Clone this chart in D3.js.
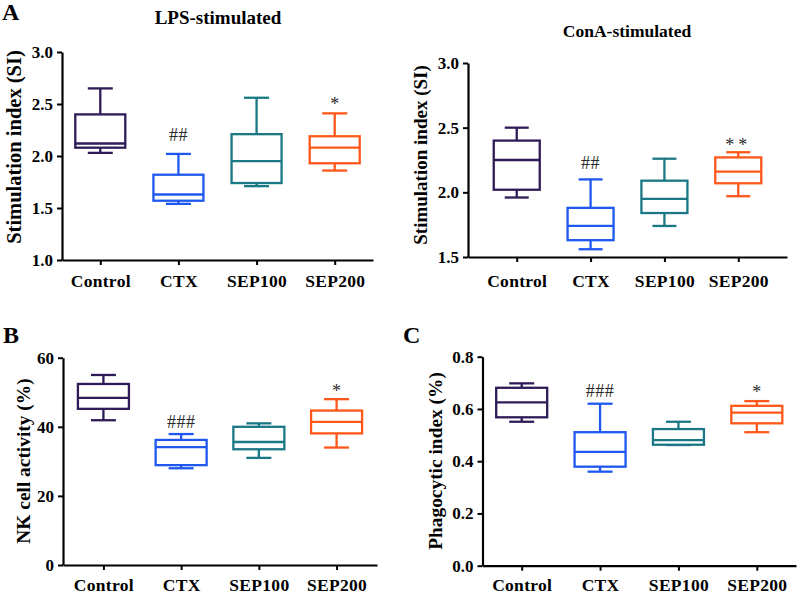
<!DOCTYPE html>
<html>
<head>
<meta charset="utf-8">
<script src="https://cdn.jsdelivr.net/npm/d3@7"></script>
<style>
  html, body { margin: 0; padding: 0; background: #fff; }
  svg { display: block; }
  text { font-family: "Liberation Serif", "Times New Roman", serif; }
</style>
</head>
<body>
<svg id="chart" width="800" height="596"></svg>
<script>
// ---------------- DATA ----------------
const categories = ["Control", "CTX", "SEP100", "SEP200"];
const groupColors = ["#2e1b57", "#1f58ee", "#1a7884", "#ff5719"];

// LPS-stimulated (Stimulation index)
const lpsMin = [2.03, 1.54, 1.71, 1.86];
const lpsQ1  = [2.08, 1.57, 1.74, 1.93];
const lpsMed = [2.12, 1.63, 1.95, 2.08];
const lpsQ3  = [2.40, 1.82, 2.21, 2.19];
const lpsMax = [2.65, 2.02, 2.56, 2.41];
const lpsMarks = ["", "##", "", "*"];
const lpsTicks = [1.0, 1.5, 2.0, 2.5, 3.0];

// ConA-stimulated (Stimulation index)
const conaMin = [1.96, 1.56, 1.74, 1.97];
const conaQ1  = [2.02, 1.63, 1.84, 2.07];
const conaMed = [2.25, 1.74, 1.95, 2.16];
const conaQ3  = [2.40, 1.88, 2.09, 2.27];
const conaMax = [2.50, 2.10, 2.26, 2.31];
const conaMarks = ["", "##", "", "**"];
const conaTicks = [1.5, 2.0, 2.5, 3.0];

// NK cell activity (%)
const nkMin = [41.9, 28.0, 31.0, 34.0];
const nkQ1  = [45.2, 28.9, 33.5, 38.1];
const nkMed = [48.4, 34.1, 35.6, 41.4];
const nkQ3  = [52.4, 36.2, 40.0, 44.7];
const nkMax = [55.0, 37.9, 41.0, 48.0];
const nkMarks = ["", "###", "", "*"];
const nkTicks = [0, 20, 40, 60];

// Phagocytic index (%)
const phMin = [0.551, 0.360, 0.462, 0.511];
const phQ1  = [0.568, 0.379, 0.463, 0.545];
const phMed = [0.625, 0.436, 0.481, 0.586];
const phQ3  = [0.681, 0.511, 0.523, 0.612];
const phMax = [0.698, 0.620, 0.551, 0.630];
const phMarks = ["", "###", "", "*"];
const phTicks = [0, 0.2, 0.4, 0.6, 0.8];

// ---------------- DRAW ----------------
const svg = d3.select("#chart");
const FONT = '"Liberation Serif", "Times New Roman", serif';

function drawPanel(cfg) {
  const g = svg.append("g");
  const x = d3.scalePoint().domain(categories).range([cfg.left, cfg.right]).padding(cfg.pad);
  const y = d3.scaleLinear().domain(cfg.domain).range([cfg.bottom, cfg.top]);

  // y axis
  const ya = g.append("g").attr("transform", `translate(${cfg.left},0)`)
    .call(d3.axisLeft(y).tickValues(cfg.ticks).tickFormat(d3.format(cfg.fmt))
      .tickSize(5).tickSizeOuter(0).tickPadding(4));
  ya.select(".domain").attr("stroke", "#000").attr("stroke-width", 2.2);
  ya.selectAll(".tick line").attr("stroke", "#000").attr("stroke-width", 2);
  ya.selectAll(".tick text").attr("font-family", FONT).attr("font-weight", "bold")
    .attr("font-size", cfg.tickFont).attr("fill", "#000");

  // x axis
  const xa = g.append("g").attr("transform", `translate(0,${cfg.bottom})`)
    .call(d3.axisBottom(x).tickSize(5).tickSizeOuter(0));
  xa.select(".domain").attr("stroke", "#000").attr("stroke-width", 2.2);
  xa.selectAll(".tick line").attr("stroke", "#000").attr("stroke-width", 2);
  xa.selectAll(".tick text").attr("font-family", FONT).attr("font-weight", "bold")
    .attr("font-size", cfg.catFont).attr("fill", "#000")
    .attr("y", cfg.catBase).attr("dy", 0).attr("letter-spacing", 0.3);

  // boxes
  const data = categories.map((c, i) => ({
    c, i, min: cfg.min[i], q1: cfg.q1[i], med: cfg.med[i], q3: cfg.q3[i], max: cfg.max[i],
    mark: cfg.marks[i]
  }));
  const bw = cfg.boxW, cw = cfg.capW, sw = 2.3;
  const box = g.selectAll(".box").data(data).join("g").attr("class", "box");
  box.append("line")
    .attr("x1", d => x(d.c)).attr("x2", d => x(d.c))
    .attr("y1", d => y(d.q3)).attr("y2", d => y(d.max))
    .attr("stroke", d => groupColors[d.i]).attr("stroke-width", sw);
  box.append("line")
    .attr("x1", d => x(d.c)).attr("x2", d => x(d.c))
    .attr("y1", d => y(d.q1)).attr("y2", d => y(d.min))
    .attr("stroke", d => groupColors[d.i]).attr("stroke-width", sw);
  box.append("line")
    .attr("x1", d => x(d.c) - cw / 2).attr("x2", d => x(d.c) + cw / 2)
    .attr("y1", d => y(d.max)).attr("y2", d => y(d.max))
    .attr("stroke", d => groupColors[d.i]).attr("stroke-width", sw);
  box.append("line")
    .attr("x1", d => x(d.c) - cw / 2).attr("x2", d => x(d.c) + cw / 2)
    .attr("y1", d => y(d.min)).attr("y2", d => y(d.min))
    .attr("stroke", d => groupColors[d.i]).attr("stroke-width", sw);
  box.append("rect")
    .attr("x", d => x(d.c) - bw / 2).attr("width", bw)
    .attr("y", d => y(d.q3)).attr("height", d => y(d.q1) - y(d.q3))
    .attr("fill", "#fff").attr("stroke", d => groupColors[d.i]).attr("stroke-width", sw);
  box.append("line")
    .attr("x1", d => x(d.c) - bw / 2).attr("x2", d => x(d.c) + bw / 2)
    .attr("y1", d => y(d.med)).attr("y2", d => y(d.med))
    .attr("stroke", d => groupColors[d.i]).attr("stroke-width", sw);

  // significance marks
  box.filter(d => d.mark).append("text")
    .attr("x", d => x(d.c))
    .attr("y", d => d.mark[0] === "#" ? y(d.max) - cfg.hashOff : y(d.max) + cfg.starOff)
    .attr("text-anchor", "middle")
    .attr("font-family", FONT)
    .attr("font-size", d => d.mark[0] === "#" ? 18 : 18)
    .attr("letter-spacing", d => d.mark === "**" ? 4 : (d.mark[0] === "#" ? 0.5 : 0))
    .attr("fill", "#2a2a2a")
    .text(d => d.mark);

  // y label
  g.append("text")
    .attr("transform", `translate(${cfg.ylabX},${cfg.ylabY}) rotate(-90)`)
    .attr("text-anchor", "middle").attr("dominant-baseline", "central")
    .attr("font-family", FONT).attr("font-weight", "bold").attr("font-size", cfg.ylabFont)
    .attr("fill", "#000")
    .text(cfg.ylabel);

  // title
  if (cfg.title) {
    g.append("text")
      .attr("x", cfg.titleX).attr("y", cfg.titleY).attr("text-anchor", "middle")
      .attr("font-family", FONT).attr("font-weight", "bold").attr("font-size", cfg.titleFont)
      .attr("fill", "#000")
      .text(cfg.title);
  }
  // panel letter
  if (cfg.letter) {
    g.append("text")
      .attr("x", cfg.letterX).attr("y", cfg.letterY)
      .attr("font-family", FONT).attr("font-weight", "bold").attr("font-size", 24)
      .attr("fill", "#000")
      .text(cfg.letter);
  }
}

drawPanel({
  left: 62, right: 373, top: 52, bottom: 260, pad: 0.49, domain: [1.0, 3.0],
  ticks: lpsTicks, fmt: ".1f", min: lpsMin, q1: lpsQ1, med: lpsMed, q3: lpsQ3, max: lpsMax,
  marks: lpsMarks, boxW: 50, capW: 25, tickFont: 17, catFont: 17.5, catBase: 27,
  hashOff: 13, starOff: -3,
  ylabel: "Stimulation index (SI)", ylabX: 14, ylabY: 147, ylabFont: 20.5,
  title: "LPS-stimulated", titleX: 218, titleY: 24, titleFont: 19,
  letter: "A", letterX: 2, letterY: 20
});

drawPanel({
  left: 468, right: 787, top: 63, bottom: 257, pad: 0.66, domain: [1.5, 3.0],
  ticks: conaTicks, fmt: ".1f", min: conaMin, q1: conaQ1, med: conaMed, q3: conaQ3, max: conaMax,
  marks: conaMarks, boxW: 46, capW: 24, tickFont: 17, catFont: 17.5, catBase: 30,
  hashOff: 10, starOff: -1,
  ylabel: "Stimulation index (SI)", ylabX: 420, ylabY: 155, ylabFont: 19,
  title: "ConA-stimulated", titleX: 627, titleY: 37, titleFont: 17.5
});

drawPanel({
  left: 63, right: 377, top: 357.7, bottom: 565, pad: 0.52, domain: [0, 60],
  ticks: nkTicks, fmt: "d", min: nkMin, q1: nkQ1, med: nkMed, q3: nkQ3, max: nkMax,
  marks: nkMarks, boxW: 51, capW: 25, tickFont: 17, catFont: 17.5, catBase: 26,
  hashOff: 6, starOff: -2,
  ylabel: "NK cell activity (%)", ylabX: 23, ylabY: 461, ylabFont: 19.4,
  letter: "B", letterX: 3, letterY: 343
});

drawPanel({
  left: 482.5, right: 796, top: 356.7, bottom: 565.7, pad: 0.5, domain: [0, 0.8],
  ticks: phTicks, fmt: ".1f", min: phMin, q1: phQ1, med: phMed, q3: phQ3, max: phMax,
  marks: phMarks, boxW: 51, capW: 25, tickFont: 17, catFont: 17.5, catBase: 25.5,
  hashOff: 7, starOff: -3,
  ylabel: "Phagocytic index (%)", ylabX: 435, ylabY: 461, ylabFont: 19.4,
  letter: "C", letterX: 403, letterY: 343
});
</script>
</body>
</html>
